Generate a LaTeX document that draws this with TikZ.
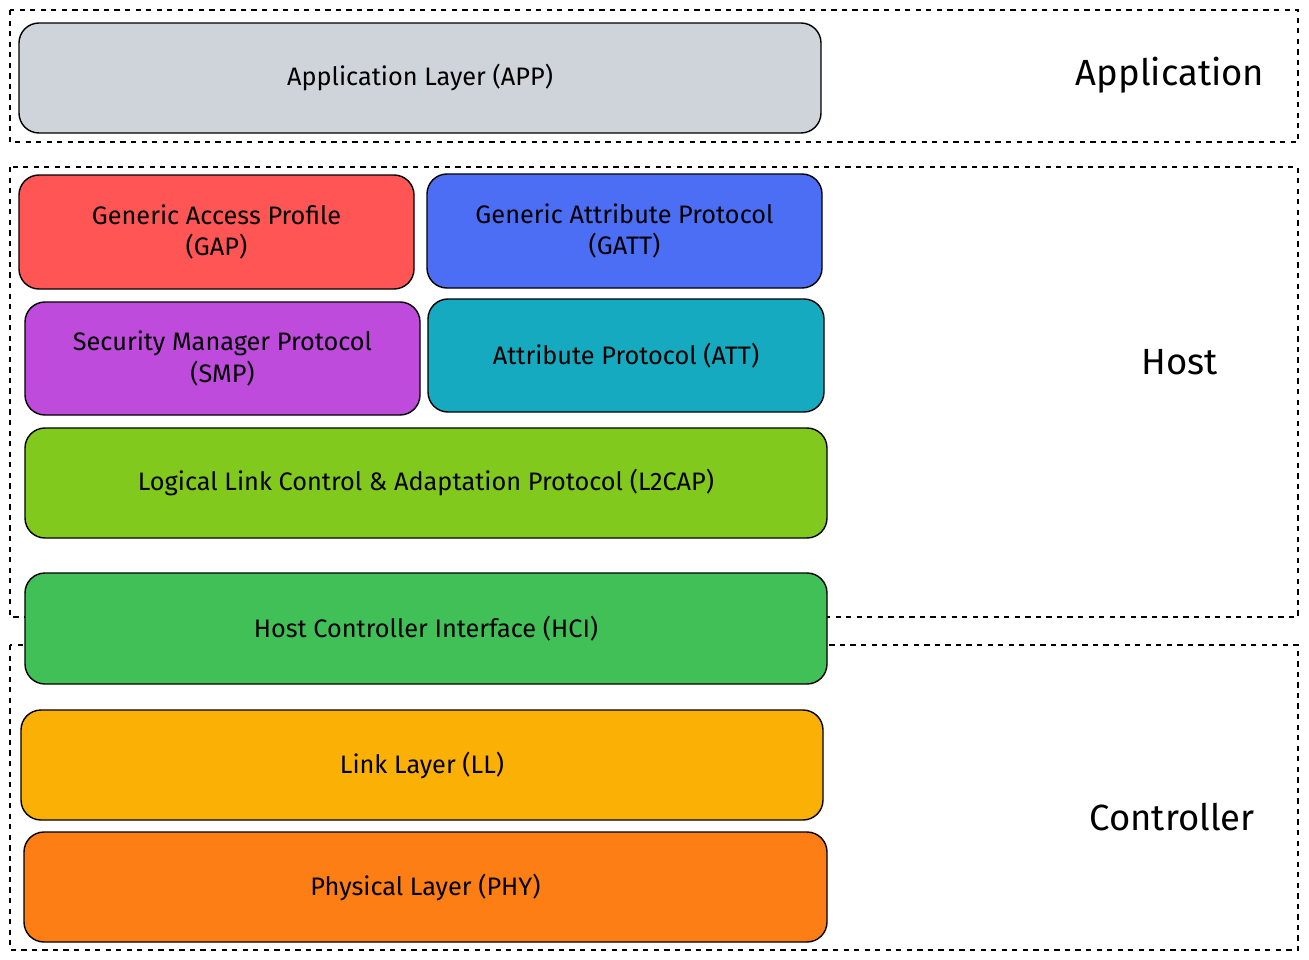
\documentclass[tikz,border=0pt]{standalone}
\usepackage{fontspec}
\setmainfont{Fira Sans}
\usetikzlibrary{positioning}
\definecolor{appgray}{HTML}{CED4DA}
\definecolor{gapred}{HTML}{FF5555}
\definecolor{gattblue}{HTML}{4C6EF5}
\definecolor{smppurple}{HTML}{BE4BDB}
\definecolor{attteal}{HTML}{15AABF}
\definecolor{lcapgreen}{HTML}{82C91E}
\definecolor{hcigreen}{HTML}{40C057}
\definecolor{llyellow}{HTML}{FAB005}
\definecolor{phyorange}{HTML}{FD7E14}
\begin{document}
\begin{tikzpicture}[x=0.02cm, y=-0.02cm,
layer/.style={draw, line width=0.8pt, rounded corners=0.4cm, align=center, font=\Large},
region/.style={draw, dashed, line width=0.8pt},
tag/.style={font=\huge}]

\useasboundingbox (0,0) rectangle (1309,960);

% dashed regions
\draw[region] (10,10) rectangle (1298,142);
\draw[region] (10,167) rectangle (1298,617);
\draw[region] (10,645) rectangle (1298,950);

% layers
\draw[layer, fill=appgray]   (19,23)  rectangle (821,133) node[midway] (APP)  {Application Layer (APP)};
\draw[layer, fill=gapred]    (19,175) rectangle (414,289) node[midway] (GAP)  {Generic Access Profile\\(GAP)};
\draw[layer, fill=gattblue]  (427,174) rectangle (822,288) node[midway] (GATT) {Generic Attribute Protocol\\(GATT)};
\draw[layer, fill=smppurple] (25,302) rectangle (420,415) node[midway] (SMP)  {Security Manager Protocol\\(SMP)};
\draw[layer, fill=attteal]   (428,299) rectangle (824,412) node[midway] (ATT)  {Attribute Protocol (ATT)};
\draw[layer, fill=lcapgreen] (25,428) rectangle (827,538) node[midway] (L2CAP) {Logical Link Control \& Adaptation Protocol (L2CAP)};
\draw[layer, fill=hcigreen]  (25,573) rectangle (827,684) node[midway] (HCI)  {Host Controller Interface (HCI)};
\draw[layer, fill=llyellow]  (21,710) rectangle (823,820) node[midway] (LL)   {Link Layer (LL)};
\draw[layer, fill=phyorange] (24,832) rectangle (827,942) node[midway] (PHY)  {Physical Layer (PHY)};

% region names
\node[tag] (application) at (1170,75)  {Application};
\node[tag] (host)        at (1180,362) {Host};
\node[tag] (controller)  at (1172,817) {Controller};

\end{tikzpicture}
\end{document}
